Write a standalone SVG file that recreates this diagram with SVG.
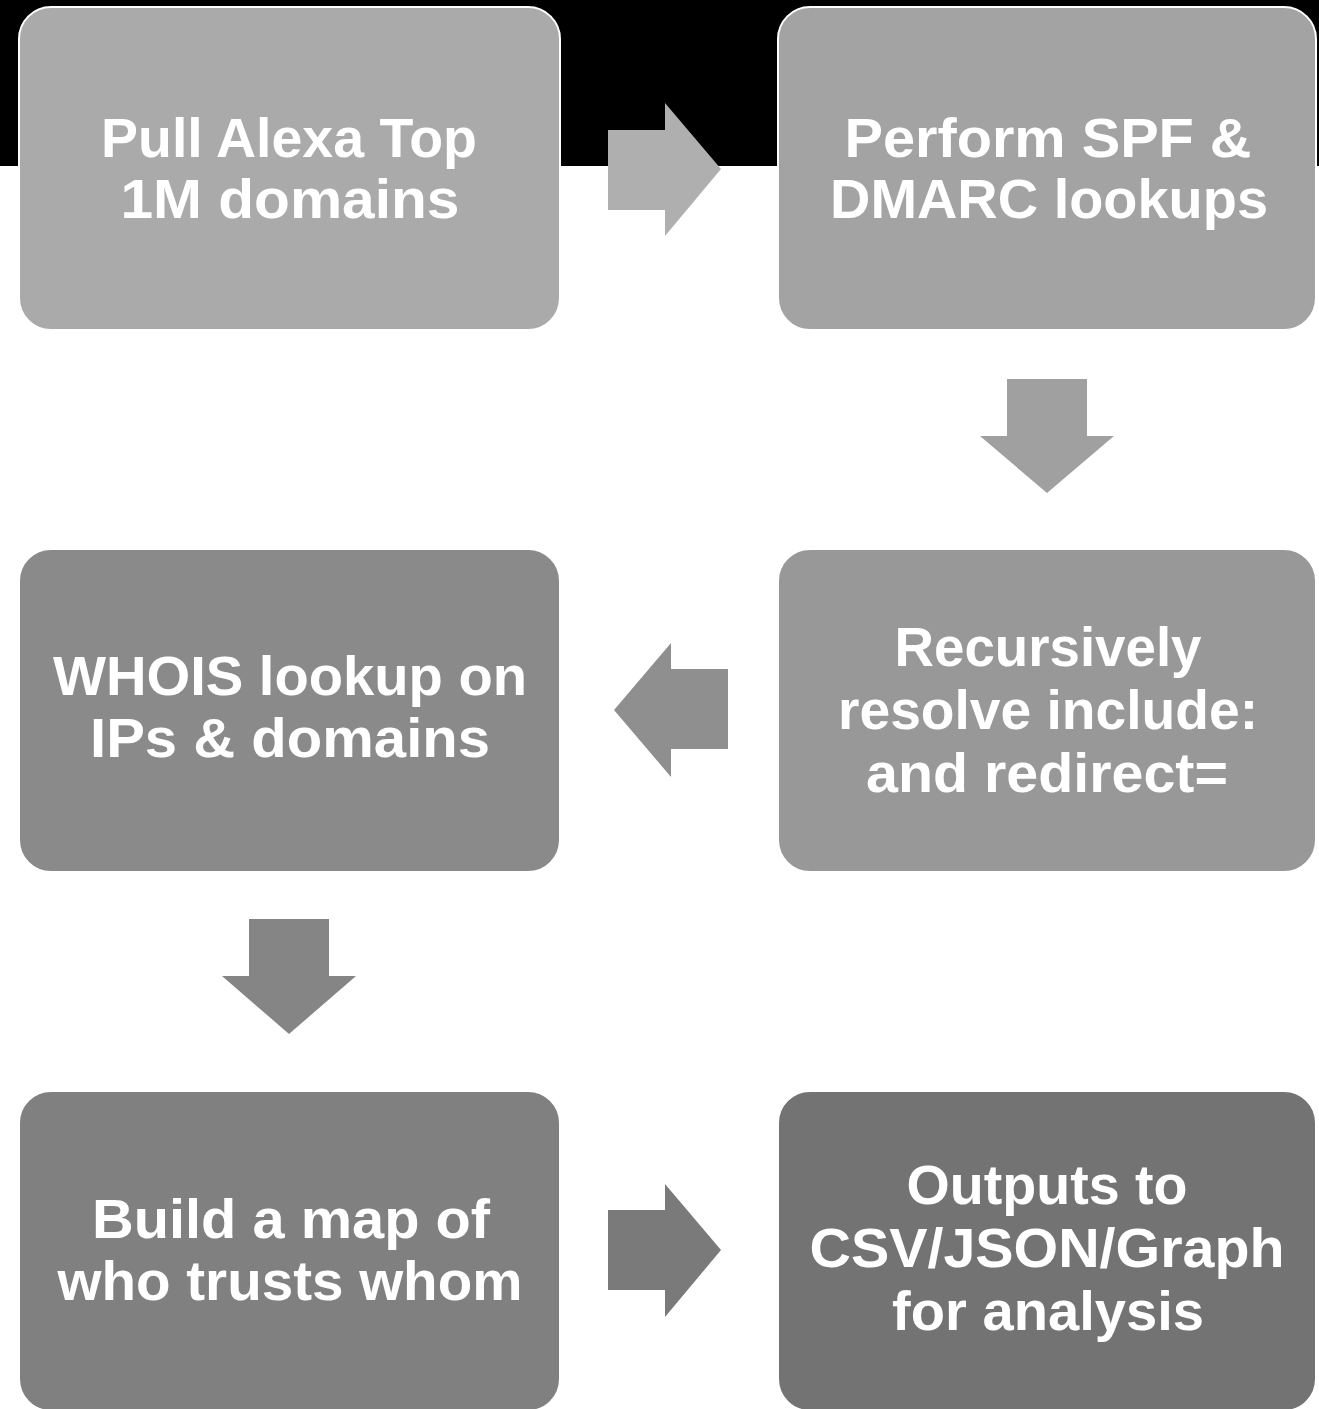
<svg xmlns="http://www.w3.org/2000/svg" width="1319" height="1409" viewBox="0 0 1319 1409">
  <style>
    .box { stroke: #ffffff; stroke-width: 2; }
    .lbl { font-family: "Liberation Sans", Arial, sans-serif; font-weight: bold; font-size: 56px; fill: #ffffff; text-anchor: middle; }
  </style>
  <rect x="0" y="0" width="1319" height="1409" fill="#ffffff"/>
  <!-- header band -->
  <rect x="0" y="0" width="1319" height="166" fill="#000000"/>

  <g id="connectors">
    <polygon points="608,130 665,130 665,103 721,169 665,236 665,210 608,210" fill="#afafaf"/>
    <polygon points="1007,379 1087,379 1087,436 1114,436 1047,493 980,436 1007,436" fill="#a0a0a0"/>
    <polygon points="728,669 671,669 671,643 614,710 671,777 671,749 728,749" fill="#8f8f8f"/>
    <polygon points="249,919 329,919 329,976 356,976 289,1034 222,976 249,976" fill="#858585"/>
    <polygon points="608,1210 665,1210 665,1184 721,1250 665,1317 665,1290 608,1290" fill="#7a7a7a"/>
  </g>

  <g id="pull-alexa">
    <rect class="box" x="19" y="7" width="541" height="323" rx="32" fill="#aaaaaa"/>
    <text class="lbl" x="289" y="157" textLength="376" lengthAdjust="spacingAndGlyphs">Pull Alexa Top</text>
    <text class="lbl" x="290" y="218" textLength="339" lengthAdjust="spacingAndGlyphs">1M domains</text>
  </g>

  <g id="spf-dmarc">
    <rect class="box" x="778" y="7" width="538" height="323" rx="32" fill="#a3a3a3"/>
    <text class="lbl" x="1048" y="157" textLength="407" lengthAdjust="spacingAndGlyphs">Perform SPF &amp;</text>
    <text class="lbl" x="1049" y="218" textLength="438" lengthAdjust="spacingAndGlyphs">DMARC lookups</text>
  </g>

  <g id="recursive-resolve">
    <rect class="box" x="778" y="549" width="538" height="323" rx="32" fill="#989898"/>
    <text class="lbl" x="1048" y="666" textLength="307" lengthAdjust="spacingAndGlyphs">Recursively</text>
    <text class="lbl" x="1048" y="729" textLength="420" lengthAdjust="spacingAndGlyphs">resolve include:</text>
    <text class="lbl" x="1047" y="792" textLength="362" lengthAdjust="spacingAndGlyphs">and redirect=</text>
  </g>

  <g id="whois">
    <rect class="box" x="19" y="549" width="541" height="323" rx="32" fill="#8a8a8a"/>
    <text class="lbl" x="290" y="695" textLength="474" lengthAdjust="spacingAndGlyphs">WHOIS lookup on</text>
    <text class="lbl" x="290" y="757" textLength="400" lengthAdjust="spacingAndGlyphs">IPs &amp; domains</text>
  </g>

  <g id="trust-map">
    <rect class="box" x="19" y="1091" width="541" height="320" rx="32" fill="#808080"/>
    <text class="lbl" x="291" y="1238" textLength="398" lengthAdjust="spacingAndGlyphs">Build a map of</text>
    <text class="lbl" x="290" y="1300" textLength="465" lengthAdjust="spacingAndGlyphs">who trusts whom</text>
  </g>

  <g id="outputs">
    <rect class="box" x="778" y="1091" width="538" height="320" rx="32" fill="#737373"/>
    <text class="lbl" x="1047" y="1204" textLength="281" lengthAdjust="spacingAndGlyphs">Outputs to</text>
    <text class="lbl" x="1047" y="1267" textLength="475" lengthAdjust="spacingAndGlyphs">CSV/JSON/Graph</text>
    <text class="lbl" x="1048" y="1330" textLength="312" lengthAdjust="spacingAndGlyphs">for analysis</text>
  </g>
</svg>
